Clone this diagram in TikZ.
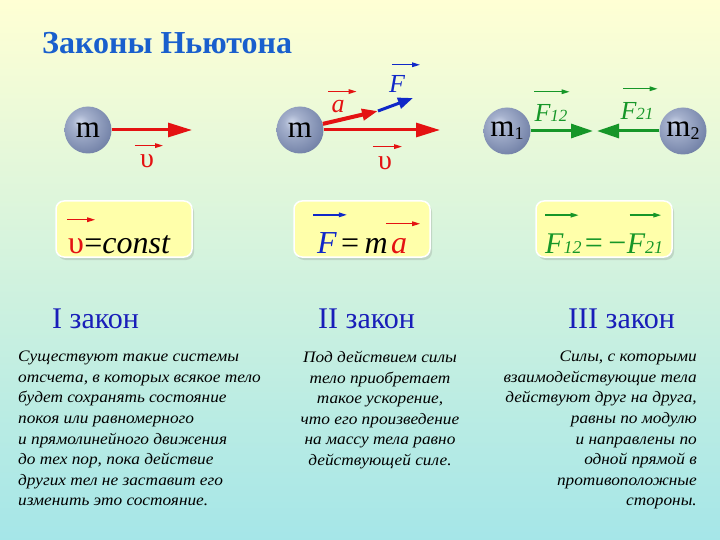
\documentclass[tikz,border=0pt]{standalone}
\usepackage{fontspec}
\setmainfont{Liberation Serif}
\newfontfamily\bodyfont[FakeStretch=1.08]{Liberation Serif}
\usetikzlibrary{arrows.meta, positioning, shadows}
\definecolor{bgtop}{RGB}{255,255,212}
\definecolor{bgmid}{RGB}{208,243,224}
\definecolor{bgbot}{RGB}{165,230,232}
\definecolor{vred}{RGB}{228,18,18}
\definecolor{fblue}{RGB}{16,40,200}
\definecolor{fgreen}{RGB}{22,150,40}
\definecolor{ttl}{RGB}{25,95,205}
\definecolor{law}{RGB}{25,30,185}
\definecolor{boxy}{RGB}{255,255,170}
\definecolor{ballhi}{RGB}{205,214,234}
\definecolor{ballmid}{RGB}{118,133,170}
\definecolor{balldark}{RGB}{62,72,104}
\pgfdeclareradialshading{sphere}{\pgfpoint{-9bp}{9bp}}{%
  color(0bp)=(ballhi); color(9bp)=(ballhi!55!ballmid);
  color(30bp)=(ballmid); color(52bp)=(balldark); color(70bp)=(balldark)}
\newcommand{\fs}[1]{\fontsize{#1}{#1}\selectfont}

\begin{document}
\begin{tikzpicture}[
      x=1pt, y=-1pt,
      ball/.style={circle, minimum size=47pt, inner sep=0pt,
                   shading=sphere, font=\fs{31}},
      vel/.style={vred, line width=3pt, -{Triangle[length=24pt,width=14pt]}},
      acc/.style={vred, line width=4pt, -{Triangle[length=16pt,width=11pt]}},
      frc/.style={fblue, line width=3pt, -{Triangle[length=15pt,width=11pt]}},
      grn/.style={fgreen, line width=3pt, -{Triangle[length=22pt,width=14pt]}},
      vecarr/.style={line width=1.4pt, -{Triangle[length=8pt,width=4.5pt]}},
      lbl/.style={font=\fs{26}\itshape, inner sep=0pt, anchor=base},
      formula/.style={rounded corners=8pt, fill=boxy, draw=white,
                      line width=1.5pt, minimum width=136pt,
                      minimum height=56pt,
                      drop shadow={opacity=0.25, shadow xshift=2pt,
                                   shadow yshift=-3pt}},
      ftxt/.style={font=\fs{32}, inner sep=0pt, anchor=base west},
      lawname/.style={font=\fs{30}, text=law, anchor=base west, inner sep=0pt},
      body/.style={font=\bodyfont\itshape\fontsize{16}{20.6}\selectfont,
                   inner sep=0pt},
    ]
    % background
    \shade[top color=bgtop, middle color=bgmid, bottom color=bgbot]
      (0,0) rectangle (720,540);
    \useasboundingbox (0,0) rectangle (720,540);

    \node[font=\bfseries\fs{32}, text=ttl, anchor=base west, inner sep=0pt]
      (title) at (42,54) {Законы Ньютона};

    % I: uniform motion
    \node[ball] (bA) at (88,130) {m};
    \coordinate (vAend) at (192,130);
    \draw[vel] (bA.east) -- (vAend);
    \node[lbl, font=\fs{28}, text=vred] (vA) at (147,168) {υ};
    \draw[vecarr, vred] ([shift={(-5,-9)}]vA.north west) -- ([shift={(9,-9)}]vA.north east);

    % II: force and acceleration
    \node[ball] (bB) at (300,130) {m};
    \coordinate (vBend) at (440,130);
    \coordinate (aend) at (378,111);
    \coordinate (Fend) at (413,98);
    \draw[vel] (bB.east) -- (vBend);
    \draw[frc] (aend) -- (Fend);
    \draw[acc] (bB.15) -- (aend);
    \node[lbl, text=vred] (aB) at (338,113) {a};
    \draw[vecarr, vred] ([shift={(-3,-9)}]aB.north west) -- ([shift={(12,-9)}]aB.north east);
    \node[lbl, text=fblue] (FB) at (397,93) {F};
    \draw[vecarr, fblue] ([shift={(3,-11)}]FB.north west) -- ([shift={(15,-11)}]FB.north east);
    \node[lbl, font=\fs{28}, text=vred] (vB) at (385,170) {υ};
    \draw[vecarr, vred] ([shift={(-5,-10)}]vB.north west) -- ([shift={(10,-10)}]vB.north east);

    % III: action and reaction
    \node[ball] (bC) at (507,131) {m\raisebox{-3pt}{\fs{18}1}};
    \node[ball] (bD) at (683,131) {m\raisebox{-3pt}{\fs{18}2}};
    \coordinate (f12end) at (593,131);
    \coordinate (f21end) at (597,131);
    \draw[grn] (bC.east) -- (f12end);
    \draw[grn] (bD.west) -- (f21end);
    \node[lbl, text=fgreen] (F12) at (551,122) {F{\fs{17}12}};
    \draw[vecarr, fgreen] ([shift={(0,-13)}]F12.north west) -- ([shift={(2,-13)}]F12.north east);
    \node[lbl, text=fgreen] (F21) at (637,120) {F{\fs{17}21}};
    \draw[vecarr, fgreen] ([shift={(3,-14)}]F21.north west) -- ([shift={(4,-14)}]F21.north east);

    % formulas
    \node[formula] (eqA) at (124,229) {};
    \node[formula] (eqB) at (362,229) {};
    \node[formula] (eqC) at (604,229) {};

    \node[ftxt, text=vred] (eqAv) at (68,253) {υ};
    \draw[vecarr, vred] ([shift={(-1,-18)}]eqAv.north west) -- ([shift={(11,-18)}]eqAv.north east);
    \node[ftxt] (eqAeq) at (eqAv.base east) {=\textit{const}};

    \node[ftxt, text=fblue, font=\fs{32}\itshape] (eqBF) at (317,253) {F};
    \draw[vecarr, fblue] ([shift={(-4,-17)}]eqBF.north west) -- ([shift={(10,-17)}]eqBF.north east);
    \node[ftxt] (eqBeq) at ([xshift=4pt]eqBF.base east) {=\,\textit{m}};
    \node[ftxt, text=vred, font=\fs{32}\itshape] (eqBa) at ([xshift=3pt]eqBeq.base east) {a};
    \draw[vecarr, vred] ([shift={(-5,-14)}]eqBa.north west) -- ([shift={(13,-14)}]eqBa.north east);

    \node[ftxt, text=fgreen, font=\fs{30}\itshape] (eqCl) at (545,253) {F{\fs{18}12}};
    \draw[vecarr, fgreen] ([shift={(0,-18)}]eqCl.north west) -- ([shift={(-3,-18)}]eqCl.north east);
    \node[ftxt, text=fgreen] (eqCeq) at ([xshift=3pt]eqCl.base east) {=\,−};
    \node[ftxt, text=fgreen, font=\fs{30}\itshape] (eqCr) at (eqCeq.base east) {F{\fs{18}21}};
    \draw[vecarr, fgreen] ([shift={(3,-18)}]eqCr.north west) -- ([shift={(-2,-18)}]eqCr.north east);

    % law names
    \node[lawname] (lawA) at (52,328) {I закон};
    \node[lawname] (lawB) at (318,328) {II закон};
    \node[lawname] (lawC) at (568,328) {III закон};

    % statements
    \node[body, anchor=north west, align=left] (txtA) at (18,351)
      {Существуют такие системы\\
       отсчета, в которых всякое тело\\
       будет сохранять состояние\\
       покоя или равномерного\\
       и прямолинейного движения\\
       до тех пор, пока действие\\
       других тел не заставит его\\
       изменить это состояние.};
    \node[body, anchor=north, align=center] (txtB) at (380,351)
      {Под действием силы\\
       тело приобретает\\
       такое ускорение,\\
       что его произведение\\
       на массу тела равно\\
       действующей силе.};
    \node[body, anchor=north east, align=right] (txtC) at (697,351)
      {Силы, с которыми\\
       взаимодействующие тела\\
       действуют друг на друга,\\
       равны по модулю\\
       и направлены по\\
       одной прямой в\\
       противоположные\\
       стороны.};
\end{tikzpicture}
\end{document}
